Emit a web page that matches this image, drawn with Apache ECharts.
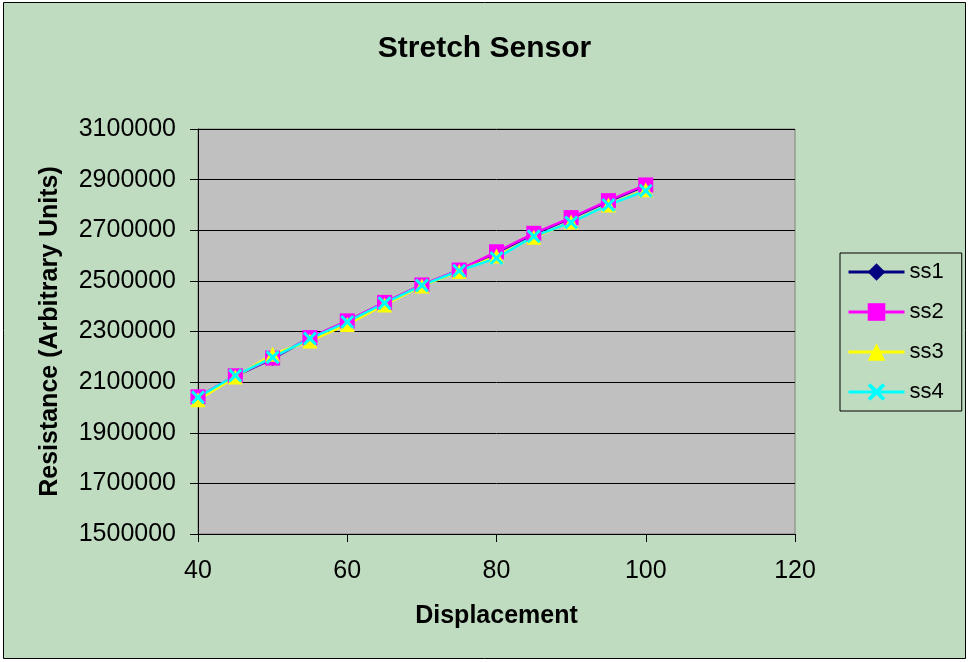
<!DOCTYPE html>
<html>
<head>
<meta charset="utf-8">
<title>Stretch Sensor</title>
<script src="https://cdn.jsdelivr.net/npm/echarts@6/dist/echarts.min.js"></script>
<style>
  html, body { margin: 0; padding: 0; background: #fff; }
  #main { width: 969px; height: 662px; }
</style>
</head>
<body>
<div id="main"></div>
<script>
var displacement = [40, 45, 50, 55, 60, 65, 70, 75, 80, 85, 90, 95, 100];
var ss1 = [2040000, 2124000, 2193000, 2275000, 2340000, 2414000, 2483000, 2542000, 2612000, 2685000, 2748000, 2814000, 2876000];
var ss2 = [2042000, 2125000, 2195000, 2276000, 2342000, 2415000, 2484000, 2543000, 2615000, 2688000, 2750000, 2817000, 2879000];
var ss3 = [2030000, 2120000, 2210000, 2262000, 2328000, 2405000, 2480000, 2537000, 2598000, 2672000, 2733000, 2800000, 2860000];
var ss4 = [2040000, 2126000, 2198000, 2272000, 2338000, 2412000, 2482000, 2540000, 2590000, 2676000, 2731000, 2800000, 2856000];
var yTicks = [1500000, 1700000, 1900000, 2100000, 2300000, 2500000, 2700000, 2900000, 3100000];

var font = 'Arial, "Liberation Sans", sans-serif';
var crossPath = 'path://M0,1.5 L1.5,0 L5,3.5 L8.5,0 L10,1.5 L6.5,5 L10,8.5 L8.5,10 L5,6.5 L1.5,10 L0,8.5 L3.5,5 Z';

function pairs(vals) {
  return displacement.map(function (x, i) { return [x, vals[i]]; });
}

function makeSeries(name, vals, color, symbol, size) {
  return {
    name: name,
    type: 'line',
    data: pairs(vals),
    symbol: symbol,
    symbolSize: size,
    showAllSymbol: true,
    lineStyle: { color: color, width: 2.5 },
    itemStyle: { color: color, borderWidth: 0 },
    emphasis: { disabled: true }
  };
}

var chartDom = document.getElementById('main');
var myChart = echarts.init(chartDom);

var option = {
  animation: false,
  backgroundColor: '#fff',
  textStyle: { fontFamily: font },
  graphic: [
    {
      type: 'rect',
      z: -10,
      silent: true,
      shape: { x: 3.5, y: 2.5, width: 962, height: 656 },
      style: { fill: '#C0DCC0', stroke: '#000', lineWidth: 1 }
    }
  ],
  title: {
    text: 'Stretch Sensor',
    left: 'center',
    top: 29,
    textStyle: { fontFamily: font, fontSize: 30, fontWeight: 'bold', color: '#000' }
  },
  legend: {
    orient: 'vertical',
    left: 840,
    top: 253,
    padding: [8, 18, 8, 7],
    itemWidth: 56,
    itemHeight: 22,
    itemGap: 18,
    borderColor: '#000',
    borderWidth: 1,
    backgroundColor: '#C0DCC0',
    lineStyle: { width: 3 },
    textStyle: { fontFamily: font, fontSize: 22, color: '#000' },
    data: ['ss1', 'ss2', 'ss3', 'ss4']
  },
  grid: {
    left: 198,
    top: 129,
    width: 597,
    height: 405,
    show: true,
    backgroundColor: '#C0C0C0',
    borderColor: '#808080',
    borderWidth: 1,
    outerBoundsMode: 'none'
  },
  xAxis: {
    type: 'value',
    min: 40,
    max: 120,
    interval: 20,
    name: 'Displacement',
    nameLocation: 'middle',
    nameGap: 70,
    nameTextStyle: { fontFamily: font, fontSize: 25, fontWeight: 'bold', color: '#000' },
    axisLine: { show: true, lineStyle: { color: '#000', width: 1 } },
    axisTick: { show: true, inside: false, length: 8, lineStyle: { color: '#000' } },
    axisLabel: { fontFamily: font, fontSize: 25, color: '#000', margin: 25 },
    splitLine: { show: false }
  },
  yAxis: {
    type: 'value',
    min: 1500000,
    max: 3100000,
    name: 'Resistance (Arbitrary Units)',
    nameLocation: 'middle',
    nameRotate: 90,
    nameGap: 135,
    nameTextStyle: { fontFamily: font, fontSize: 25, fontWeight: 'bold', color: '#000' },
    axisLine: { show: true, lineStyle: { color: '#000', width: 1 } },
    axisTick: { show: true, inside: false, length: 8, customValues: yTicks, lineStyle: { color: '#000' } },
    axisLabel: {
      fontFamily: font, fontSize: 25, color: '#000', margin: 22, customValues: yTicks,
      formatter: function (v) { return String(v); }
    },
    splitLine: { show: true, lineStyle: { color: '#000', width: 1 } }
  },
  series: [
    makeSeries('ss1', ss1, '#000080', 'diamond', 15),
    makeSeries('ss2', ss2, '#FF00FF', 'rect', 15),
    makeSeries('ss3', ss3, '#FFFF00', 'triangle', 15),
    makeSeries('ss4', ss4, '#00FFFF', crossPath, 14)
  ]
};

option && myChart.setOption(option);
</script>
</body>
</html>
